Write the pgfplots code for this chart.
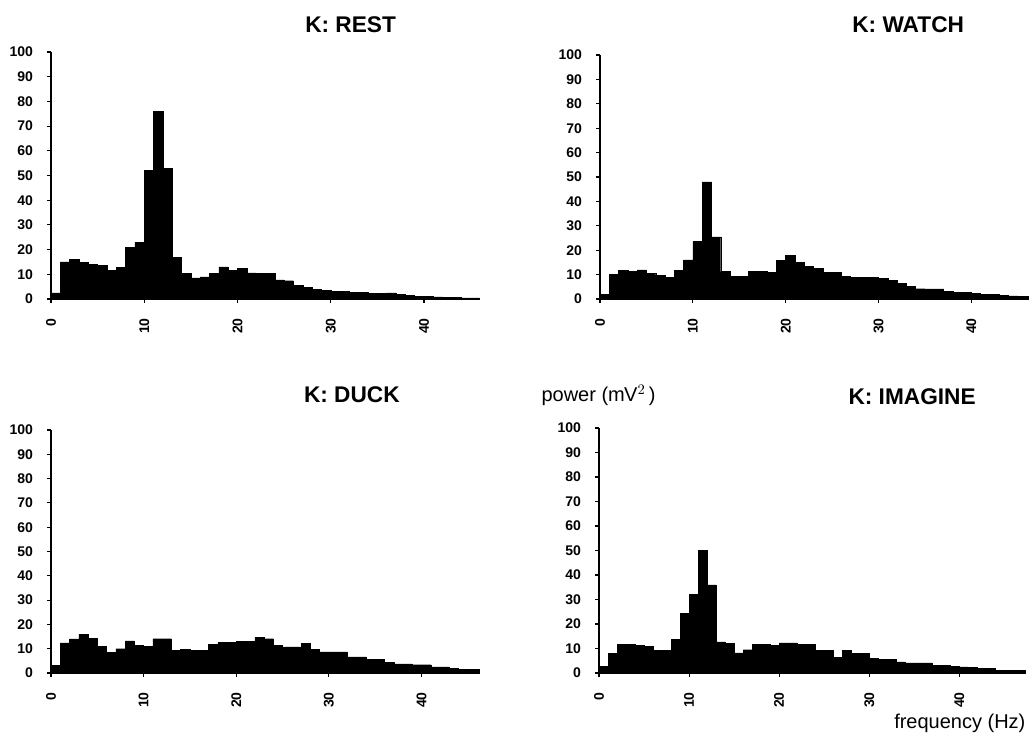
\documentclass[border=0pt]{standalone}
\usepackage{fontspec}
\setmainfont{Liberation Sans}
\usepackage{pgfplots}
\pgfplotsset{compat=1.18}
\usepackage{pgfplotstable}

\pgfplotstableread{
f p
0 2.5
1 15
2 16
3 14.8
4 14
5 13.5
6 11.7
7 12.8
8 21
9 23
10 52
11 76
12 53
13 17
14 10.4
15 8.6
16 9
17 10.4
18 13
19 11.7
20 12.4
21 10.6
22 10.4
23 10.4
24 7.7
25 7.4
26 5.4
27 4.7
28 4
29 3.6
30 3.2
31 3.2
32 2.7
33 2.7
34 2.3
35 2.3
36 2.5
37 1.8
38 1.6
39 1.2
40 1.2
41 0.9
42 0.7
43 0.6
44 0.5
45 0.5
45.9 0.5
}\rest

\pgfplotstableread{
f p
0 2
1 10.2
2 11.6
3 11.2
4 11.9
5 10.5
6 9.8
7 8.9
8 11.6
9 16
10 23.5
11 48
12 25.5
13 11.2
14 9.4
15 9.4
16 11.2
17 11.2
18 10.8
19 15.7
20 17.8
21 14.9
22 13.3
23 12.6
24 11
25 10.8
26 9.4
27 9
28 8.9
29 8.9
30 8.6
31 7.5
32 6.4
33 5.3
34 4.2
35 4.1
36 4.1
37 3
38 2.8
39 2.7
40 2.2
41 2
42 1.8
43 1.6
44 1.3
45 1.1
46.1 1.1
}\watch

\pgfplotstableread{
f p
0 3.2
1 12.4
2 14
3 16
4 14.4
5 11
6 8.5
7 10
8 13.2
9 11.4
10 11
11 14.1
12 14.1
13 9.3
14 9.6
15 9.3
16 9.3
17 11.7
18 12.5
19 12.5
20 13
21 13
22 14.6
23 14.1
24 11.4
25 10.7
26 10.7
27 12.1
28 9.6
29 8.7
30 8.7
31 8.7
32 6.6
33 6.6
34 5.5
35 5.5
36 4.5
37 3.8
38 3.8
39 3.4
40 3.4
41 2.5
42 2.5
43 2
44 1.4
45 1.4
46.2 1.4
}\duck

\pgfplotstableread{
f p
0 2.7
1 7.9
2 11.7
3 11.6
4 11.3
5 10.9
6 9.3
7 9.3
8 13.6
9 24.3
10 32
11 50
12 36
13 12.7
14 12
15 8.2
16 9.5
17 11.6
18 11.6
19 11.3
20 12.3
21 12.3
22 11.6
23 11.6
24 9.3
25 9.3
26 6.5
27 9.3
28 7.9
29 7.9
30 5.9
31 5.5
32 5.5
33 4.5
34 4.1
35 4.1
36 4.1
37 3.1
38 3.1
39 2.8
40 2.5
41 2.3
42 1.8
43 1.8
44 1.2
45 1.1
46 1.1
47.3 1.1
}\imagine

\pgfplotsset{
  eeg/.style={
    scale only axis,
    anchor=south west,
    xmin=0, ymin=0, ymax=100,
    axis x line=bottom, axis y line=left,
    axis line style={-},
    y axis line style={line width=1.4pt},
    x axis line style={line width=0.6pt},
    xtick={0,10,20,30,40},
    ytick={0,10,...,100},
    tick align=outside,
    major tick length=3pt,
    tick style={black, line width=0.8pt},
    /pgf/number format/assume math mode=true,
    ticklabel style={font=\bfseries\fontsize{10.5}{12}\selectfont},
    xticklabel style={rotate=90, anchor=east, xshift=-8pt},
    yticklabel style={xshift=-7pt},
    title style={font=\bfseries\fontsize{17}{19}\selectfont, anchor=center, yshift=-6pt},
    clip=false,
  },
  bars/.style={fill=black, draw=black, line width=0.3pt, const plot mark left},
}

\begin{document}
\begin{tikzpicture}
\useasboundingbox (0,0) rectangle (775.5pt,551.25pt);

\begin{axis}[eeg, at={(38.25pt,327pt)}, width=321pt, height=185.25pt, xmax=45.9,
  title={K: REST}, title style={at={(axis description cs:0.70,1.11)}}]
\addplot[bars] table {\rest} \closedcycle;
\end{axis}

\begin{axis}[eeg, at={(450pt,327pt)}, width=321pt, height=183pt, xmax=46.1,
  title={K: WATCH}, title style={at={(axis description cs:0.72,1.123)}}]
\addplot[bars] table {\watch} \closedcycle;
\end{axis}

\begin{axis}[eeg, at={(38.25pt,46.5pt)}, width=321pt, height=182.25pt, xmax=46.2,
  title={K: DUCK}, title style={at={(axis description cs:0.703,1.144)}}]
\addplot[bars] table {\duck} \closedcycle;
\end{axis}

\begin{axis}[eeg, at={(449.25pt,46.5pt)}, width=319.5pt, height=183.75pt, xmax=47.3,
  title={K: IMAGINE}, title style={at={(axis description cs:0.735,1.127)}},
  ylabel={power (m\kern-0.5ptV$^{2}$\,)},
  ylabel style={at={(axis description cs:-0.146,1.135)}, anchor=west, rotate=-90, font=\fontsize{15}{17}\selectfont},
  xlabel={frequency (Hz)},
  xlabel style={at={(axis description cs:1.012,-0.204)}, anchor=east, font=\fontsize{15}{17}\selectfont}]
\addplot[bars] table {\imagine} \closedcycle;
\end{axis}
\end{tikzpicture}
\end{document}
